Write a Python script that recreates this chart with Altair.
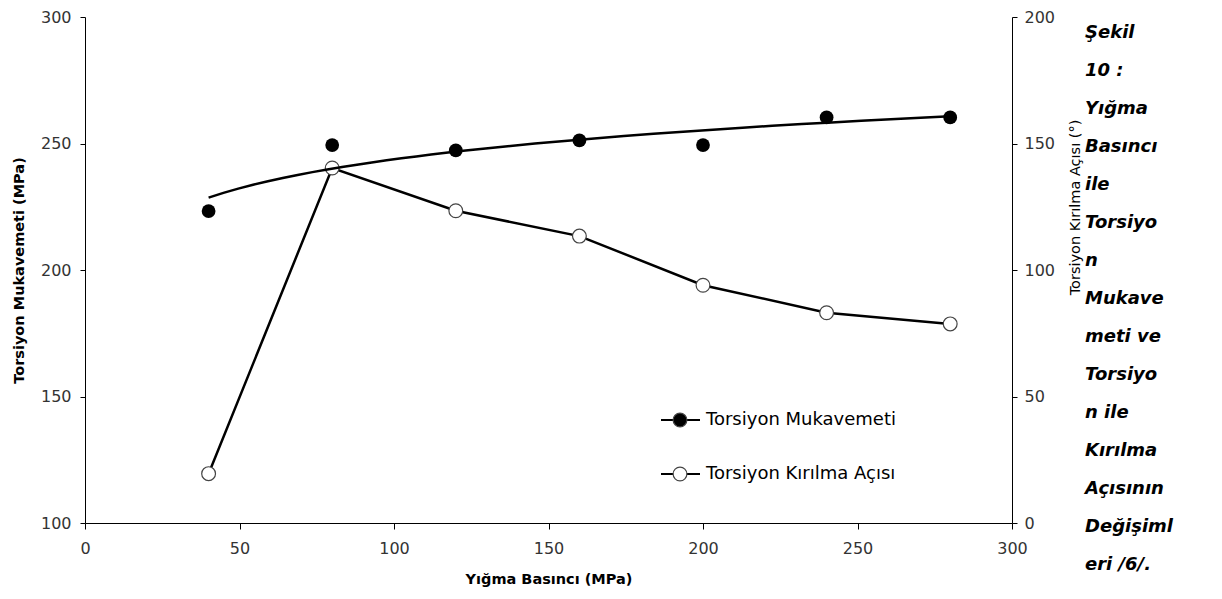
import altair as alt
import pandas as pd

pressure = [40, 80, 120, 160, 200, 240, 280]
strength = [223.3, 249.4, 247.3, 251.2, 249.4, 260.3, 260.3]
angle = [19.5, 140.3, 123.4, 113.4, 94.0, 83.1, 78.7]

x_title = "Yığma Basıncı (MPa)"
y_left_title = "Torsiyon Mukavemeti (MPa)"
y_right_title = "Torsiyon Kırılma Açısı (°)"
legend_labels = ["Torsiyon Mukavemeti", "Torsiyon Kırılma Açısı"]
caption_lines = ["Şekil", "10 :", "Yığma", "Basıncı", "ile", "Torsiyo", "n",
                 "Mukave", "meti ve", "Torsiyo", "n ile", "Kırılma",
                 "Açısının", "Değişiml", "eri /6/."]

df = pd.DataFrame({"pressure": pressure, "strength": strength, "angle": angle})

FONT = "DejaVu Sans"
W, H = 927, 506

x_axis = alt.Axis(title=x_title, values=[0, 50, 100, 150, 200, 250, 300],
                  titleFontWeight="bold", titleFontSize=14.5, titlePadding=16,
                  labelFontSize=16, labelPadding=11, tickSize=6, labelFlush=False)
x_enc = alt.X("pressure:Q", scale=alt.Scale(domain=[0, 300], nice=False), axis=x_axis)

left_scale = alt.Scale(domain=[100, 300], nice=False)
right_scale = alt.Scale(domain=[0, 200], nice=False)

base = alt.Chart(df)

angle_line = base.mark_line(color="black", strokeWidth=2.5).encode(
    x=x_enc,
    y=alt.Y("angle:Q", scale=right_scale,
            axis=alt.Axis(title=y_right_title, orient="right", values=[0, 50, 100, 150, 200],
                          titleFontWeight="normal", titleFontSize=14.5,
                          titleAngle=270, titleX=63, titleY=190,
                          titleAlign="center", titleBaseline="middle",
                          labelFontSize=16, labelPadding=7, tickSize=5, labelFlush=False)),
)
angle_pts = base.mark_point(shape="circle", filled=True, fill="white", stroke="#444",
                            strokeWidth=1.2, size=190, opacity=1).encode(
    x=x_enc, y=alt.Y("angle:Q", scale=right_scale, axis=None))

trend = base.transform_regression("pressure", "strength", method="log",
                                  extent=[40, 280]).mark_line(
    color="black", strokeWidth=2.5).encode(
    x=x_enc,
    y=alt.Y("strength:Q", scale=left_scale,
            axis=alt.Axis(title=y_left_title, orient="left", values=[100, 150, 200, 250, 300],
                          titleFontWeight="bold", titleFontSize=14.5, titlePadding=14,
                          labelFontSize=16, labelPadding=9, tickSize=5, labelFlush=False)),
)
strength_pts = base.mark_point(shape="circle", filled=True, color="black", size=190,
                               opacity=1).encode(
    x=x_enc, y=alt.Y("strength:Q", scale=left_scale, axis=None))

# manual legend
leg_rows = []
for i, (lab, fill) in enumerate(zip(legend_labels, ["black", "white"])):
    yy = 403 + 54 * i
    one = alt.Chart(pd.DataFrame({"a": [0]}))
    leg_rows.append(one.mark_rule(color="black", strokeWidth=2).encode(
        x=alt.value(576), x2=alt.value(615), y=alt.value(yy)))
    leg_rows.append(one.mark_point(
        shape="circle", filled=True, fill=fill, stroke="#444", strokeWidth=1.2,
        size=190, opacity=1).encode(x=alt.value(595), y=alt.value(yy)))
    leg_rows.append(one.mark_text(
        text=lab, align="left", baseline="middle", font=FONT, fontSize=18,
        color="black").encode(x=alt.value(621), y=alt.value(yy)))

caption = alt.Chart(pd.DataFrame({"a": [0]})).mark_text(
    text="\n".join(caption_lines), lineBreak="\n", lineHeight=38, align="left",
    baseline="top", font="DejaVu Sans", fontSize=18, fontWeight="bold",
    fontStyle="italic", color="black").encode(x=alt.value(1000), y=alt.value(7))

chart = alt.layer(angle_line, angle_pts, trend, strength_pts, *leg_rows, caption).resolve_scale(
    y="independent"
).properties(
    width=W, height=H,
    autosize=alt.AutoSizeParams(type="none"),
    padding={"left": 85, "top": 17, "right": 210, "bottom": 76},
    background="white",
).configure_view(stroke=None).configure_axis(
    grid=False, domainColor="black", tickColor="black", labelColor="#333",
    titleColor="black", labelFont=FONT, titleFont=FONT, domainWidth=1, tickWidth=1,
)

chart.save("out.html", embed_options={"renderer": "svg", "actions": False})
